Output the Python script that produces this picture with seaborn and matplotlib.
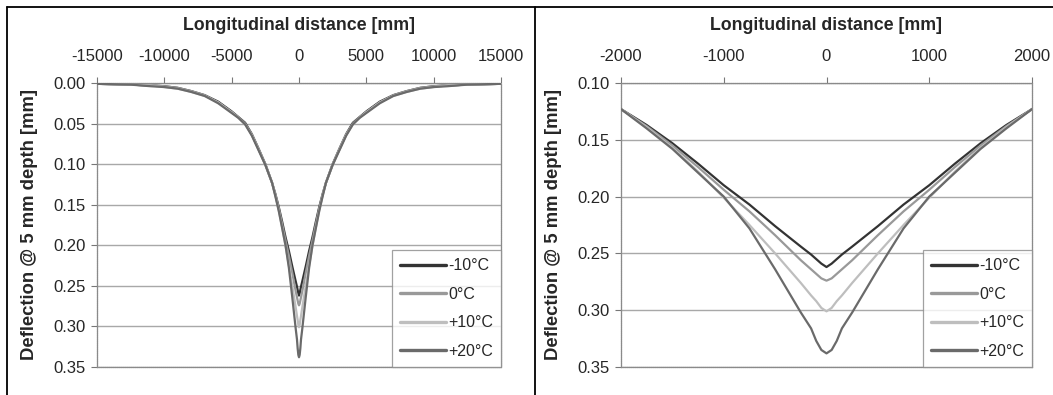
import numpy as np
import pandas as pd
import seaborn as sns
import matplotlib.pyplot as plt
from matplotlib.lines import Line2D
from matplotlib.ticker import FormatStrFormatter

# Longitudinal distance [mm] of the deflection readings
distance = [-15000, -12500, -11000, -10000, -9000, -8000, -7000, -6000, -5000, -4500,
            -4000, -3500, -3000, -2500, -2000, -1750, -1500, -1250, -1000, -750,
            -500, -250, -150, -100, -50, 0, 50, 100, 150, 250,
            500, 750, 1000, 1250, 1500, 1750, 2000, 2500, 3000, 3500,
            4000, 4500, 5000, 6000, 7000, 8000, 9000, 10000, 11000, 12500, 15000]

# Deflection @ 5 mm depth [mm]
defl_m10 = [0.001, 0.002, 0.003, 0.004, 0.006, 0.010, 0.015, 0.023, 0.035, 0.042,
            0.049, 0.063, 0.081, 0.100, 0.123, 0.137, 0.153, 0.171, 0.190, 0.207,
            0.226, 0.244, 0.251, 0.255, 0.259, 0.262, 0.259, 0.255, 0.251, 0.244,
            0.226, 0.207, 0.190, 0.171, 0.153, 0.137, 0.123, 0.100, 0.081, 0.063,
            0.049, 0.042, 0.035, 0.023, 0.015, 0.010, 0.006, 0.004, 0.003, 0.002, 0.001]
defl_0 = [0.001, 0.002, 0.003, 0.004, 0.006, 0.010, 0.015, 0.024, 0.036, 0.042,
          0.050, 0.064, 0.082, 0.100, 0.123, 0.138, 0.155, 0.174, 0.194, 0.213,
          0.234, 0.256, 0.264, 0.268, 0.272, 0.274, 0.272, 0.268, 0.264, 0.256,
          0.234, 0.213, 0.194, 0.174, 0.155, 0.138, 0.123, 0.100, 0.082, 0.064,
          0.050, 0.042, 0.036, 0.024, 0.015, 0.010, 0.006, 0.004, 0.003, 0.002, 0.001]
defl_p10 = [0.001, 0.002, 0.003, 0.005, 0.007, 0.011, 0.016, 0.024, 0.036, 0.043,
            0.051, 0.064, 0.082, 0.101, 0.123, 0.139, 0.157, 0.178, 0.201, 0.225,
            0.250, 0.276, 0.287, 0.292, 0.298, 0.301, 0.298, 0.292, 0.287, 0.276,
            0.250, 0.225, 0.201, 0.178, 0.157, 0.139, 0.123, 0.101, 0.082, 0.064,
            0.051, 0.043, 0.036, 0.024, 0.016, 0.011, 0.007, 0.005, 0.003, 0.002, 0.001]
defl_p20 = [0.001, 0.002, 0.004, 0.005, 0.007, 0.011, 0.016, 0.025, 0.037, 0.043,
            0.051, 0.065, 0.083, 0.101, 0.123, 0.140, 0.158, 0.179, 0.200, 0.228,
            0.264, 0.302, 0.316, 0.327, 0.335, 0.338, 0.335, 0.327, 0.316, 0.302,
            0.264, 0.228, 0.200, 0.179, 0.158, 0.140, 0.123, 0.101, 0.083, 0.065,
            0.051, 0.043, 0.037, 0.025, 0.016, 0.011, 0.007, 0.005, 0.004, 0.002, 0.001]

temps = ['-10°C', '0°C', '+10°C', '+20°C']
colors = ['#333333', '#999999', '#bebebe', '#6a6a6a']

frames = []
for t, vals in zip(temps, [defl_m10, defl_0, defl_p10, defl_p20]):
    frames.append(pd.DataFrame({'dist': distance, 'defl': vals, 'temp': t}))
df = pd.concat(frames, ignore_index=True)

sns.set_style('white')
plt.rcParams['font.family'] = ['Liberation Sans', 'DejaVu Sans']
plt.rcParams['axes.unicode_minus'] = False

fig = plt.figure(figsize=(10.53, 3.95), dpi=100)
W, H = 1053, 395
ax1 = fig.add_axes([97 / W, 1 - 367 / H, (501 - 97) / W, (367 - 83) / H])
ax2 = fig.add_axes([621 / W, 1 - 367 / H, (1032 - 621) / W, (367 - 83) / H])

panels = [
    (ax1, (-15000, 15000), np.arange(-15000, 15001, 5000), (0.35, 0.0), np.arange(0, 0.351, 0.05)),
    (ax2, (-2000, 2000), np.arange(-2000, 2001, 1000), (0.35, 0.10), np.arange(0.10, 0.351, 0.05)),
]

for ax, xlim, xticks, ylim, yticks in panels:
    sns.lineplot(data=df, x='dist', y='defl', hue='temp', hue_order=temps,
                 palette=colors, linewidth=1.6, ax=ax, zorder=3)
    ax.set_xlim(*xlim)
    ax.set_ylim(*ylim)
    ax.set_xticks(xticks)
    ax.set_yticks(yticks)
    ax.yaxis.set_major_formatter(FormatStrFormatter('%.2f'))
    ax.xaxis.tick_top()
    ax.xaxis.set_label_position('top')
    ax.set_xlabel('Longitudinal distance [mm]', fontsize=12.8, fontweight='bold', labelpad=14)
    ax.set_ylabel('Deflection @ 5 mm depth [mm]', fontsize=13.3, fontweight='bold')
    ax_w = ax.get_position().width * W
    ax.yaxis.set_label_coords(-59 / ax_w, 0.5)
    ax.tick_params(axis='both', labelsize=12, length=4, width=0.8, color='#777777',
                   direction='out')
    ax.tick_params(axis='x', top=True, bottom=False, pad=9.5)
    ax.tick_params(axis='y', left=True, pad=4)
    ax.grid(axis='y', color='#a8a8a8', linewidth=1)
    ax.grid(axis='x', visible=False)
    for side in ['top', 'bottom', 'left', 'right']:
        ax.spines[side].set_color('#8a8a8a')
        ax.spines[side].set_linewidth(0.9)
        ax.spines[side].set_linestyle((0, (1, 0.6)))
    leg = ax.legend(loc='lower right', borderaxespad=0, fontsize=11.5, handlelength=2.9,
                    handletextpad=0.1, labelspacing=0.85, frameon=True, fancybox=False,
                    borderpad=0.5)
    leg.get_frame().set_edgecolor('#8a8a8a')
    leg.get_frame().set_linewidth(0.9)
    for h in leg.get_lines():
        h.set_linewidth(2.4)

# outer frame and divider between the two panels
fig.add_artist(Line2D([7 / W, 1], [1 - 7 / H, 1 - 7 / H], color='black', linewidth=1.3))
fig.add_artist(Line2D([7 / W, 7 / W], [0, 1 - 7 / H], color='black', linewidth=1.3))
fig.add_artist(Line2D([535 / W, 535 / W], [0, 1 - 7 / H], color='black', linewidth=1.3))

fig.savefig('out.png', dpi=100)
